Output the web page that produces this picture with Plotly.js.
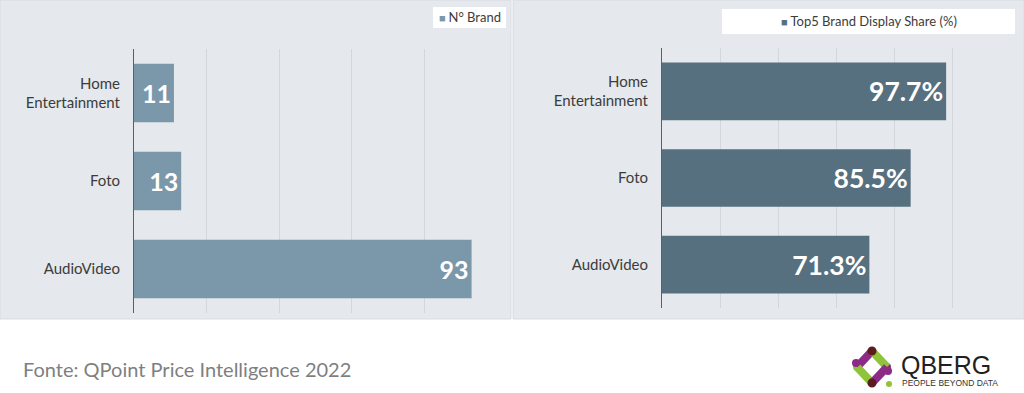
<!DOCTYPE html>
<html>
<head>
<meta charset="utf-8">
<script src="https://cdn.plot.ly/plotly-3.0.1.min.js"></script>
<style>
  html, body { margin: 0; padding: 0; background: #ffffff; }
  #chart { width: 1024px; height: 393px; }
</style>
</head>
<body>
<div id="chart"></div>
<script>
// ---- Data ----
const categories = ["Home<br>Entertainment", "Foto", "AudioVideo"];
const brandCounts = [11, 13, 93];
const top5Share = [97.7, 85.5, 71.3];
const seriesNames = ["N° Brand", "Top5 Brand Display Share (%)"];
const footerText = "Fonte: QPoint Price Intelligence 2022";

// ---- Styling ----
const W = 1024, H = 393;
const px = x => x / W;
const py = y => 1 - y / H;
const colLeft = "#7b97aa";
const colRight = "#56707f";
const panelBg = "#e5e8ec";
const gridCol = "#d3d7dc";
const textCol = "#3c3c3c";

const traces = [
  {
    type: "bar", orientation: "h", name: seriesNames[0],
    y: categories, x: brandCounts,
    xaxis: "x", yaxis: "y",
    marker: { color: colLeft },
    texttemplate: "%{x}", textposition: "inside", insidetextanchor: "end",
    textfont: { family: "Lato", size: 25, color: "#ffffff", weight: 700 },
    constraintext: "none",
    hoverinfo: "skip", showlegend: false
  },
  {
    type: "bar", orientation: "h", name: seriesNames[1],
    y: categories, x: top5Share,
    xaxis: "x2", yaxis: "y2",
    marker: { color: colRight },
    texttemplate: "%{x:.1f}%", textposition: "inside", insidetextanchor: "end",
    textfont: { family: "Lato", size: 26.5, color: "#ffffff", weight: 700 },
    constraintext: "none",
    hoverinfo: "skip", showlegend: false
  }
];

const xCommon = {
  showticklabels: false, ticks: "", showgrid: true, gridcolor: gridCol, gridwidth: 1,
  zeroline: false, showline: false, dtick: 20, fixedrange: true
};
const yCommon = {
  autorange: "reversed", showline: true, linecolor: "#5f5f5f", linewidth: 1,
  ticks: "", showgrid: false, ticklabelstandoff: 10,
  tickfont: { family: "Lato", size: 15, color: textCol }, fixedrange: true
};

const shapes = [
  // panels
  { type: "rect", xref: "paper", yref: "paper", layer: "below",
    x0: px(0), x1: px(511), y0: py(319), y1: py(0),
    fillcolor: panelBg, line: { color: "#d8dce0", width: 1 } },
  { type: "rect", xref: "paper", yref: "paper", layer: "below",
    x0: px(513), x1: px(1024), y0: py(319), y1: py(0),
    fillcolor: panelBg, line: { color: "#d8dce0", width: 1 } },
  // legend boxes
  { type: "rect", xref: "paper", yref: "paper", layer: "below",
    x0: px(433), x1: px(506), y0: py(28), y1: py(7),
    fillcolor: "#ffffff", line: { width: 0 } },
  { type: "rect", xref: "paper", yref: "paper", layer: "below",
    x0: px(722), x1: px(1015), y0: py(34), y1: py(9),
    fillcolor: "#ffffff", line: { width: 0 } }
];

// ---- Logo (QBERG) ----
const purple = "#8c2a86", green = "#8fc33a", brown = "#5a1c1c";
const T = [872, 351], B = [872, 383], L = [857, 367], R = [887, 367];
function seg(a, b, c) {
  return { type: "line", xref: "paper", yref: "paper",
    x0: px(a[0]), y0: py(a[1]), x1: px(b[0]), y1: py(b[1]),
    line: { color: c, width: 8 } };
}
function dot(c, r, col) {
  return { type: "circle", xref: "paper", yref: "paper",
    x0: px(c[0] - r), x1: px(c[0] + r), y0: py(c[1] + r), y1: py(c[1] - r),
    fillcolor: col, line: { width: 0 } };
}
shapes.push(dot(L, 4, green), dot(R, 4, purple));
shapes.push(seg(T, L, purple), seg(L, B, green), seg(T, R, green), seg(R, B, purple));
shapes.push(dot([856, 363], 4, purple), dot([888, 371], 4, purple));
shapes.push(dot(T, 4.5, brown), dot(B, 4.5, brown), dot([889, 384], 3, green));

const annotations = [
  { xref: "paper", yref: "paper", x: px(469.5), y: py(17.5), xanchor: "center", yanchor: "middle",
    showarrow: false,
    text: '<span style="color:' + colLeft + ';font-size:11px">■ </span>' + seriesNames[0],
    font: { family: "Lato", size: 13, color: textCol } },
  { xref: "paper", yref: "paper", x: px(869), y: py(21.5), xanchor: "center", yanchor: "middle",
    showarrow: false,
    text: '<span style="color:' + colRight + ';font-size:11px">■ </span>' + seriesNames[1],
    font: { family: "Lato", size: 13, color: textCol } },
  { xref: "paper", yref: "paper", x: px(21), y: py(369), xanchor: "left", yanchor: "middle",
    showarrow: false, text: footerText,
    font: { family: "Lato", size: 20, color: "#7f7f7f" } },
  { xref: "paper", yref: "paper", x: px(899), y: py(365), xanchor: "left", yanchor: "middle",
    showarrow: false, text: "QBERG",
    font: { family: "Liberation Sans", size: 25, color: "#231f20" } },
  { xref: "paper", yref: "paper", x: px(900), y: py(383), xanchor: "left", yanchor: "middle",
    showarrow: false, text: "PEOPLE BEYOND DATA",
    font: { family: "Liberation Sans", size: 8.5, color: "#333333" } }
];

const layout = {
  width: W, height: H,
  margin: { l: 0, r: 0, t: 0, b: 0 },
  paper_bgcolor: "#ffffff", plot_bgcolor: "rgba(0,0,0,0)",
  showlegend: false,
  bargap: 0.335,
  font: { family: "Lato", color: textCol },
  xaxis: Object.assign({}, xCommon, { domain: [px(134), px(497)], range: [0, 100], anchor: "y" }),
  yaxis: Object.assign({}, yCommon, { domain: [py(313), py(49)], anchor: "x" }),
  xaxis2: Object.assign({}, xCommon, { domain: [px(662), px(1011)], range: [0, 120], anchor: "y2" }),
  yaxis2: Object.assign({}, yCommon, { domain: [py(308), py(48)], anchor: "x2" }),
  shapes: shapes,
  annotations: annotations
};

Plotly.newPlot("chart", traces, layout, { displayModeBar: false, staticPlot: true });
</script>
</body>
</html>
